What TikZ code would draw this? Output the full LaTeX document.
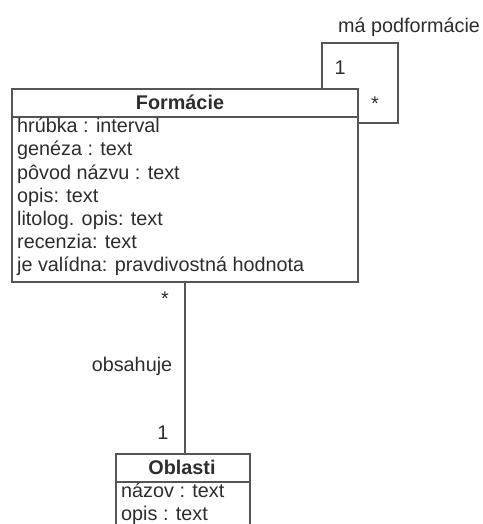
\documentclass[tikz,border=0pt]{standalone}
\usepackage{fontspec}
\setmainfont{Liberation Sans}
\definecolor{ink}{RGB}{45,45,45}
\definecolor{edge}{RGB}{85,85,85}
\newcommand{\umlfont}{\fontsize{19.8}{23.2}\selectfont}
\begin{document}
\begin{tikzpicture}[x=1pt,y=-1pt,
  every node/.style={text=ink, font=\umlfont, inner sep=0pt},
  classbox/.style={draw=edge, line width=2.2pt, anchor=north west, minimum width=#1},
  attr/.style={anchor=north west, align=left},
  conn/.style={draw=edge, line width=2.2pt},
  title/.style={font=\bfseries\umlfont}]
\clip (0,0) rectangle (482,524);
\fill[white] (0,0) rectangle (482,524);

% Formácie class
\node[classbox=346, minimum height=193] (form) at (11,88) {};
\draw[conn] (11,117) -- (357,117);
\node[title] (formt) at (180,102) {Formácie};
\node[attr] (forma) at (17,118) {hrúbka : interval\\genéza : text\\pôvod názvu : text\\opis: text\\litolog. opis: text\\recenzia: text\\je valídna: pravdivostná hodnota};

% Oblasti class (runs past the lower edge)
\node[classbox=134, minimum height=90] (obl) at (115,453) {};
\draw[conn] (115,482) -- (249,482);
\node[title] (oblt) at (182,467) {Oblasti};
\node[attr] (obla) at (121,483) {názov : text\\opis : text};

% self association "má podformácie"
\coordinate (s1) at (322,88);
\coordinate (s2) at (322,43);
\coordinate (s3) at (398,43);
\coordinate (s4) at (398,123);
\coordinate (s5) at (357,123);
\draw[conn, line join=miter] (s1) -- (s2) -- (s3) -- (s4) -- (s5);
\node (selfname) at (409,27) {má podformácie};
\node (selfone) at (340,68) {1};
\node (selfmany) at (375,104) {*};

% association "obsahuje"
\coordinate (fb) at (185,281);
\draw[conn] (fb) -- (fb |- obl.north);
\node (amany) at (165,299) {*};
\node (aname) at (132,366) {obsahuje};
\node (aone) at (163,433) {1};
\end{tikzpicture}
\end{document}
